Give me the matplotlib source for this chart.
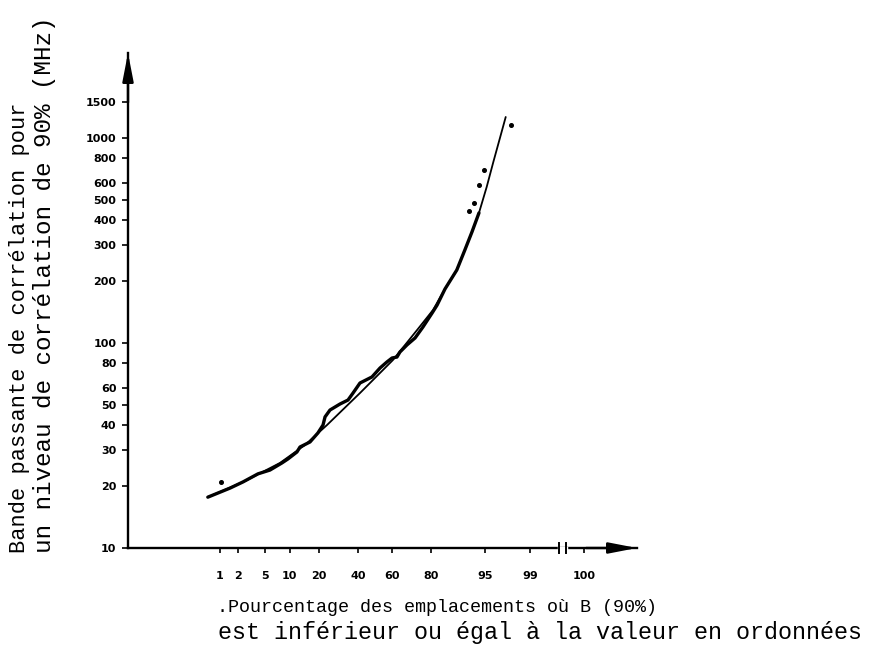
import math
import numpy as np
import matplotlib
matplotlib.use("Agg")
import matplotlib.pyplot as plt
import matplotlib.transforms as mtransforms

# ---------------- data ----------------
# smooth fitted curve (percentage of locations, bandwidth MHz)
fit_pct = [0.61, 2.56, 7.72, 14.7, 23.6, 41.1, 60.6, 73.6, 80.8, 85.3, 89.0,
           91.1, 92.7, 94.05, 95.3, 96.2, 96.95, 97.5]
fit_mhz = [17.7, 21.2, 26.0, 31.8, 39.8, 57.0, 82.6, 115.7, 144.9, 183.4, 227,
           284, 348, 431, 577, 764, 1000, 1266]

# measured curve
meas_pct = [0.61, 1.49, 2.39, 3.97, 5.77, 8.16, 9.61, 12.1, 13.05, 16.5, 19.6,
            21.8, 22.7, 25.0, 30.0, 34.3, 37.1, 41.1, 48.2, 53.0, 57.1, 60.1,
            62.9, 64.6, 68.4, 72.6, 76.4, 80.4, 82.4, 85.3, 89.0, 91.1, 92.7, 94.05]
meas_mhz = [17.7, 19.6, 21.0, 23.0, 24.0, 26.0, 27.2, 29.4, 31.1, 32.9, 36.4,
            39.8, 43.6, 47.1, 50.4, 52.7, 57.0, 63.8, 68.3, 75.5, 80.8, 84.5,
            85.4, 90.4, 97.8, 105.8, 119.7, 140, 153, 183.4, 227, 284, 348, 431]

# isolated measured points
dot_pct = [1.05, 92.1, 93.1, 94.05, 94.9, 97.9]
dot_mhz = [21.0, 440, 482, 590, 698, 1157]

xticks = [1, 2, 5, 10, 20, 40, 60, 80, 95, 99, 100]
xticklabels = ["1", "2", "5", "10", "20", "40", "60", "80", "95", "99", "100"]
yticks = [10, 20, 30, 40, 50, 60, 80, 100, 200, 300, 400, 500, 600, 800, 1000, 1500]
yticklabels = ["10", "20", "30", "40", "50", "60", "80", "100", "200", "300",
               "400", "500", "600", "800", "1000", "1500"]

# ---------------- probability scale ----------------
_a = [-3.969683028665376e+01, 2.209460984245205e+02, -2.759285104469687e+02,
      1.383577518672690e+02, -3.066479806614716e+01, 2.506628277459239e+00]
_b = [-5.447609879822406e+01, 1.615858368580409e+02, -1.556989798598866e+02,
      6.680131188771972e+01, -1.328068155288572e+01]
_c = [-7.784894002430293e-03, -3.223964580411365e-01, -2.400758277161838e+00,
      -2.549732539343734e+00, 4.374664141464968e+00, 2.938163982698783e+00]
_d = [7.784695709041462e-03, 3.224671290700398e-01, 2.445134137142996e+00,
      3.754408661907416e+00]


def ndtri(p):
    p = np.clip(np.asarray(p, dtype=float), 1e-12, 1 - 1e-12)
    plow = 0.02425
    out = np.empty_like(p)
    lo = p < plow
    hi = p > 1 - plow
    mid = ~(lo | hi)
    q = np.sqrt(-2 * np.log(p[lo]))
    out[lo] = (((((_c[0]*q+_c[1])*q+_c[2])*q+_c[3])*q+_c[4])*q+_c[5]) / \
              ((((_d[0]*q+_d[1])*q+_d[2])*q+_d[3])*q+1)
    q = np.sqrt(-2 * np.log(1 - p[hi]))
    out[hi] = -(((((_c[0]*q+_c[1])*q+_c[2])*q+_c[3])*q+_c[4])*q+_c[5]) / \
              ((((_d[0]*q+_d[1])*q+_d[2])*q+_d[3])*q+1)
    q = p[mid] - 0.5
    r = q * q
    out[mid] = (((((_a[0]*r+_a[1])*r+_a[2])*r+_a[3])*r+_a[4])*r+_a[5])*q / \
               (((((_b[0]*r+_b[1])*r+_b[2])*r+_b[3])*r+_b[4])*r+1)
    return out


_erf = np.vectorize(math.erf)
Z99 = float(ndtri(np.array([0.99]))[0])
K = 0.807  # linear extension past 99 % (axis break)


def forward(p):
    p = np.asarray(p, dtype=float)
    z = ndtri(np.clip(p, 1e-8, 99.0) / 100.0)
    return np.where(p > 99.0, Z99 + (p - 99.0) * K, z)


def inverse(z):
    z = np.asarray(z, dtype=float)
    zc = np.minimum(z, Z99)
    p = 50.0 * (1.0 + _erf(zc / math.sqrt(2.0)))
    return np.where(z > Z99, 99.0 + (z - Z99) / K, p)


# ---------------- figure ----------------
W, H = 876, 659
fig = plt.figure(figsize=(W / 100, H / 100), dpi=100)
ax = fig.add_axes([128 / W, 1 - 548 / H, (637 - 128) / W, (548 - 53) / H])

ax.set_xscale("function", functions=(forward, inverse))
ax.set_yscale("log")
ax.set_xlim(0.01066, 100.985)
ax.set_ylim(10, 2598)

ax.plot(fit_pct, fit_mhz, color="black", lw=1.3, solid_capstyle="round")
ax.plot(meas_pct, meas_mhz, color="black", lw=2.4, solid_capstyle="round",
        solid_joinstyle="round")
ax.plot(dot_pct, dot_mhz, "o", color="black", ms=2.6, lw=0)

for s in ["top", "right"]:
    ax.spines[s].set_visible(False)
for s in ["left", "bottom"]:
    ax.spines[s].set_linewidth(1.7)

ax.set_xticks(xticks)
ax.set_xticklabels(xticklabels, fontsize=8, fontweight="bold")
ax.set_yticks(yticks)
ax.set_yticklabels(yticklabels, fontsize=8, fontweight="bold")
ax.minorticks_off()
ax.tick_params(axis="x", direction="out", length=3.5, width=1.2, pad=13)
ax.tick_params(axis="y", direction="out", length=4.3, width=1.2, pad=4)

# arrow heads on the axes
arrow_kw = dict(arrowstyle="-|>,head_length=1.7,head_width=0.33", color="black",
                lw=1.7, mutation_scale=10, shrinkA=0, shrinkB=0)
ax.annotate("", xy=(0, 1), xytext=(0, 0.9), xycoords="axes fraction",
            arrowprops=arrow_kw, annotation_clip=False)
ax.annotate("", xy=(1, 0), xytext=(0.9, 0), xycoords="axes fraction",
            arrowprops=arrow_kw, annotation_clip=False)

# axis break marks
trans = mtransforms.blended_transform_factory(ax.transData, ax.transAxes)
ax.plot([99.54, 99.67], [0, 0], color="white", lw=2.5, transform=trans,
        clip_on=False, zorder=5)
for xb in (99.54, 99.67):
    ax.plot([xb, xb], [-0.011, 0.011], color="black", lw=1.4, transform=trans,
            clip_on=False, zorder=6)

# axis titles
mono = "Liberation Mono"
fig.text(20 / W, 1 - 553 / H, "Bande passante de corrélation pour", rotation=90,
         ha="center", va="bottom", fontsize=15.8, family=mono)
fig.text(45 / W, 1 - 553 / H, "un niveau de corrélation de 90% (MHz)",
         rotation=90, ha="center", va="bottom", fontsize=17.5, family=mono)
fig.text(217 / W, 1 - 607 / H, ".Pourcentage des emplacements où B (90%)",
         ha="left", va="center", fontsize=13.2, family=mono)
fig.text(218 / W, 1 - 633 / H, "est inférieur ou égal à la valeur en ordonnées",
         ha="left", va="center", fontsize=16.8, family=mono)

fig.savefig("out.png", dpi=100)
